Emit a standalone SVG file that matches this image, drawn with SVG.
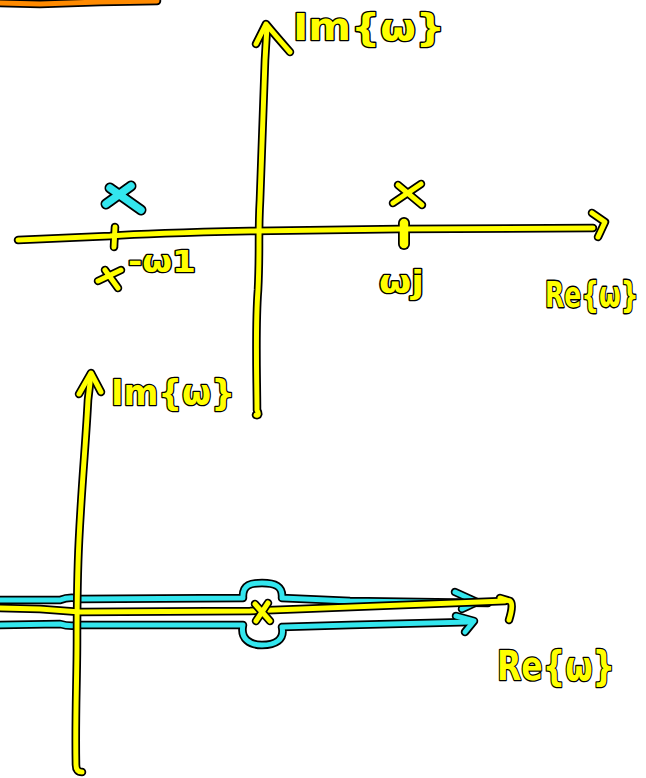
<svg xmlns="http://www.w3.org/2000/svg" xmlns:xlink="http://www.w3.org/1999/xlink" width="646" height="778" viewBox="0 0 646 778">
<style>
.ok{fill:none;stroke:#000;stroke-width:8.5;stroke-linecap:round;stroke-linejoin:round}
.ye{fill:none;stroke:#ffff00;stroke-width:5;stroke-linecap:round;stroke-linejoin:round}
.cy{fill:none;stroke:#33e6ee;stroke-width:5;stroke-linecap:round;stroke-linejoin:round}
.or{fill:none;stroke:#ff8a00;stroke-width:5;stroke-linecap:round;stroke-linejoin:round}
.okb{fill:none;stroke:#000;stroke-width:12;stroke-linecap:round}
.yeb{fill:none;stroke:#ffff00;stroke-width:8.5;stroke-linecap:round}
.lbl{font-family:"DejaVu Sans",sans-serif;font-weight:bold;fill:#ffff00;stroke:#000;stroke-width:2.6;paint-order:stroke;stroke-linejoin:round}
</style>
<defs>
<path id="orange" d="M -5 3 L 40 4 L 100 2 L 157 1"/>
<path id="vax1" d="M 256 415 Q 260 416 257 410 C 257 380 255 330 258 290 C 260 250 258 235 260 200 C 262 150 264 100 265 60 L 267 26"/>
<path id="vax1a" d="M 256 44 L 266 24 Q 276 36 290 52"/>
<path id="hax1" d="M 18 240 L 110 236 C 150 233 200 232 250 231 L 400 229 L 593 228"/>
<path id="hax1a" d="M 592 213 L 605 222 L 598 237"/>
<path id="tick1" d="M 115 227 L 114 247"/>
<path id="tick2" d="M 404 223 L 404 244"/>
<path id="cx" d="M 131 186 L 106 204 M 110 188 L 141 210"/>
<path id="yx1" d="M 98 281 L 121 270 M 105 270 L 118 288"/>
<path id="yx2" d="M 398 185 L 422 205 M 421 184 L 393 203"/>
<path id="vax2" d="M 82 772 Q 76 772 76 765 C 75 720 77 680 77 640 C 77 600 78 560 79 540 C 82 480 86 440 88 400 L 91 374"/>
<path id="vax2a" d="M 79 394 L 91 373 L 101 392"/>
<path id="hax2" d="M 0 608 L 40 609 L 80 612 L 250 611 L 300 609 L 505 601"/>
<path id="hax2a" d="M 500 598 L 510 601 Q 514 604 509 620"/>
<path id="yx3" d="M 255 604 L 270 621 M 268 603 L 256 621"/>
<path id="cup" d="M 0 600 L 60 600 Q 70 596 80 599 L 243 598 C 242 584 252 583 262 583 C 275 583 283 586 282 598 L 350 601 L 488 603"/>
<path id="cupa" d="M 455 592 L 477 602 L 462 609"/>
<path id="clo" d="M 0 625 L 60 624 Q 70 627 80 625 L 243 625 C 240 639 250 645 262 645 C 275 645 285 640 282 627 L 350 625 L 470 622"/>
<path id="cloa" d="M 456 616 L 474 621 L 465 632"/>
</defs>
<g id="orange-line"><use xlink:href="#orange" class="ok"/><use xlink:href="#orange" class="or"/></g>
<g id="connectors">
<use xlink:href="#vax1" class="ok"/><use xlink:href="#vax1a" class="ok"/>
<use xlink:href="#hax1" class="ok"/><use xlink:href="#hax1a" class="ok"/>
<use xlink:href="#tick1" class="ok"/><use xlink:href="#tick2" class="okb"/>
<use xlink:href="#vax1" class="ye"/><use xlink:href="#vax1a" class="ye"/>
<use xlink:href="#hax1" class="ye"/><use xlink:href="#hax1a" class="ye"/>
<use xlink:href="#tick1" class="ye"/><use xlink:href="#tick2" class="yeb"/>
<use xlink:href="#cup" class="ok"/><use xlink:href="#cupa" class="ok"/>
<use xlink:href="#clo" class="ok"/><use xlink:href="#cloa" class="ok"/>
<use xlink:href="#cup" class="cy"/><use xlink:href="#cupa" class="cy"/>
<use xlink:href="#clo" class="cy"/><use xlink:href="#cloa" class="cy"/>
<use xlink:href="#vax2" class="ok"/><use xlink:href="#vax2a" class="ok"/>
<use xlink:href="#hax2" class="ok"/><use xlink:href="#hax2a" class="ok"/>
<use xlink:href="#vax2" class="ye"/><use xlink:href="#vax2a" class="ye"/>
<use xlink:href="#hax2" class="ye"/><use xlink:href="#hax2a" class="ye"/>
</g>
<g id="marks">
<use xlink:href="#cx" class="ok" style="stroke-width:11"/><use xlink:href="#cx" class="cy" style="stroke-width:7.5"/>
<use xlink:href="#yx1" class="ok"/><use xlink:href="#yx1" class="ye"/>
<use xlink:href="#yx2" class="ok"/><use xlink:href="#yx2" class="ye"/>
<use xlink:href="#yx3" class="ok"/><use xlink:href="#yx3" class="ye"/>
</g>
<g id="labels">
<text class="lbl" x="293" y="40" font-size="38" textLength="152" lengthAdjust="spacingAndGlyphs">Im{ω}</text>
<text class="lbl" x="128" y="272" font-size="30" textLength="68" lengthAdjust="spacingAndGlyphs">-ω1</text>
<text class="lbl" x="379" y="293" font-size="32" textLength="45" lengthAdjust="spacingAndGlyphs">ωj</text>
<text class="lbl" transform="translate(545 307) scale(1 1.4)" x="0" y="0" font-size="25" style="stroke-width:2">Re{ω}</text>
<text class="lbl" x="111" y="405" font-size="36" textLength="124" lengthAdjust="spacingAndGlyphs">Im{ω}</text>
<text class="lbl" x="497" y="680" font-size="40" textLength="118" lengthAdjust="spacingAndGlyphs">Re{ω}</text>
</g>
</svg>
